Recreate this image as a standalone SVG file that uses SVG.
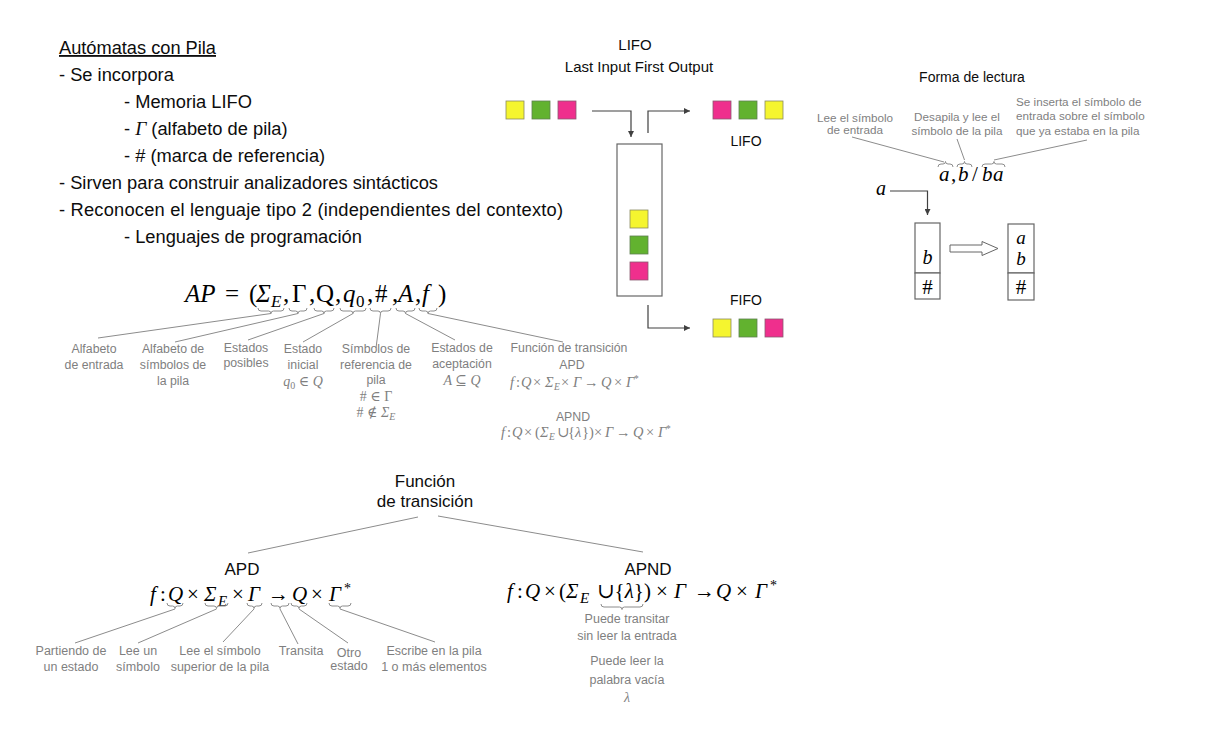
<svg xmlns="http://www.w3.org/2000/svg" width="1208" height="748" viewBox="0 0 1208 748">
<defs>
<marker id="ah" markerWidth="7" markerHeight="6" refX="6" refY="3" orient="auto" markerUnits="userSpaceOnUse"><path d="M0,0 L6,3 L0,6 z" fill="#404040"/></marker>
<style>
.t{font-family:"Liberation Sans",Arial,sans-serif;fill:#0d0d0d}
.g{font-family:"Liberation Sans",Arial,sans-serif;fill:#7f7f7f}
.m{font-family:"Liberation Serif","DejaVu Serif","Times New Roman",serif}
.gm{font-family:"Liberation Serif","DejaVu Serif","Times New Roman",serif;fill:#7f7f7f}
.i{font-style:italic}
.n{font-style:normal}
.ln{stroke:#8c8c8c;stroke-width:1;fill:none}
.ar{stroke:#404040;stroke-width:1.2;fill:none}
.bx{stroke:#666;stroke-width:1.2;fill:#fff}
.y{fill:#f5f52f;stroke:#8a8a60;stroke-width:.8}
.gr{fill:#62b22f;stroke:#5f7f50;stroke-width:.8}
.pk{fill:#ef2f8d;stroke:#8a5a70;stroke-width:.8}
</style>
</defs>
<rect width="1208" height="748" fill="#fff"/>

<g id="intro" class="t" font-size="18.3">
<text x="59" y="54" text-decoration="underline" textLength="157" lengthAdjust="spacingAndGlyphs">Autómatas con Pila</text>
<text x="59" y="81">- Se incorpora</text>
<text x="124" y="108">- Memoria LIFO</text>
<text x="124" y="135">- <tspan class="m i" font-size="19.5">Γ</tspan> (alfabeto de pila)</text>
<text x="124" y="162">- # (marca de referencia)</text>
<text x="59" y="189" textLength="379" lengthAdjust="spacing">- Sirven para construir analizadores sintácticos</text>
<text x="59" y="216" textLength="504" lengthAdjust="spacing">- Reconocen el lenguaje tipo 2 (independientes del contexto)</text>
<text x="124" y="243">- Lenguajes de programación</text>
</g>

<g id="ap-formula">
<text class="m" font-size="25" y="302"><tspan class="i" x="185">AP</tspan><tspan x="225">=</tspan><tspan x="249">(</tspan><tspan class="i" x="256">Σ</tspan><tspan class="i" x="271" y="307" font-size="17">E</tspan><tspan x="283" y="302">,</tspan><tspan x="292">Γ</tspan><tspan x="309">,</tspan><tspan x="316">Q</tspan><tspan x="335">,</tspan><tspan class="i" x="343">q</tspan><tspan x="356" y="307" font-size="17">0</tspan><tspan x="367" y="302">,</tspan><tspan x="375">#</tspan><tspan x="392">,</tspan><tspan class="i" x="398">A</tspan><tspan x="415">,</tspan><tspan class="i" x="422">f</tspan><tspan x="438">)</tspan></text>
<path class="ln" d="M258,308 q0,3 3,3 H268.5 q2.5,0 2.5,2.5 q0,-2.5 2.5,-2.5 H281 q3,0 3,-3"/>
<path class="ln" d="M289,308 q0,3 3,3 H295.5 q2.5,0 2.5,2.5 q0,-2.5 2.5,-2.5 H304 q3,0 3,-3"/>
<path class="ln" d="M314,308 q0,3 3,3 H321.5 q2.5,0 2.5,2.5 q0,-2.5 2.5,-2.5 H331 q3,0 3,-3"/>
<path class="ln" d="M340,308 q0,3 3,3 H350.5 q2.5,0 2.5,2.5 q0,-2.5 2.5,-2.5 H363 q3,0 3,-3"/>
<path class="ln" d="M370,308 q0,3 3,3 H378 q2.5,0 2.5,2.5 q0,-2.5 2.5,-2.5 H388 q3,0 3,-3"/>
<path class="ln" d="M396,308 q0,3 3,3 H403 q2.5,0 2.5,2.5 q0,-2.5 2.5,-2.5 H412 q3,0 3,-3"/>
<path class="ln" d="M419,308 q0,3 3,3 H425.5 q2.5,0 2.5,2.5 q0,-2.5 2.5,-2.5 H434 q3,0 3,-3"/>
</g>

<g id="ap-labels" class="g" font-size="12.3" text-anchor="middle">
<g id="lbl-alfabeto-entrada"><text><tspan x="94" y="353">Alfabeto</tspan><tspan x="94" y="369">de entrada</tspan></text></g>
<g id="lbl-alfabeto-pila"><text><tspan x="173" y="353">Alfabeto de</tspan><tspan x="173" y="369">símbolos de</tspan><tspan x="173" y="385">la pila</tspan></text></g>
<g id="lbl-estados"><text><tspan x="246" y="352">Estados</tspan><tspan x="246" y="367">posibles</tspan></text></g>
<g id="lbl-inicial"><text><tspan x="303" y="353">Estado</tspan><tspan x="303" y="369">inicial</tspan></text>
<text class="gm i" font-size="14" x="303" y="386">q<tspan font-size="10" dy="3" class="n">0</tspan><tspan dy="-3" class="n"> ∈ </tspan>Q</text></g>
<g id="lbl-referencia"><text><tspan x="376" y="353">Símbolos de</tspan><tspan x="376" y="369">referencia de</tspan><tspan x="376" y="384">pila</tspan></text>
<text class="gm" font-size="14" x="376" y="401"># ∈ Γ</text>
<text class="gm" font-size="14" x="376" y="417"># ∉ <tspan class="i">Σ</tspan><tspan class="i" font-size="10" dy="3">E</tspan></text></g>
<g id="lbl-aceptacion"><text><tspan x="462" y="352">Estados de</tspan><tspan x="462" y="368">aceptación</tspan></text>
<text class="gm i" font-size="14" x="462" y="385">A <tspan class="n">⊆</tspan> Q</text></g>
<g id="lbl-funcion"><text><tspan x="569" y="352">Función de transición</tspan><tspan x="572" y="369">APD</tspan><tspan x="573" y="421">APND</tspan></text></g>
</g>

<g id="ap-small-formulas" class="gm" font-size="14.5">
<text y="387"><tspan class="i" x="510">f</tspan><tspan x="516">:</tspan><tspan class="i" x="521">Q</tspan><tspan x="533">×</tspan><tspan class="i" x="545">Σ</tspan><tspan class="i" x="554" y="390" font-size="9.5">E</tspan><tspan x="561" y="387">×</tspan><tspan class="i" x="573">Γ</tspan><tspan x="584">→</tspan><tspan class="i" x="601">Q</tspan><tspan x="614">×</tspan><tspan class="i" x="626">Γ</tspan><tspan x="634" y="382" font-size="9.5">*</tspan></text>
<text y="437"><tspan class="i" x="501">f</tspan><tspan x="507">:</tspan><tspan class="i" x="512">Q</tspan><tspan x="524">×</tspan><tspan x="535">(</tspan><tspan class="i" x="540">Σ</tspan><tspan class="i" x="549" y="440" font-size="9.5">E</tspan><tspan x="557" y="437">∪</tspan><tspan x="568">{</tspan><tspan class="i" x="575">λ</tspan><tspan x="582">})</tspan><tspan x="594">×</tspan><tspan class="i" x="605">Γ</tspan><tspan x="616">→</tspan><tspan class="i" x="633">Q</tspan><tspan x="646">×</tspan><tspan class="i" x="658">Γ</tspan><tspan x="666" y="432" font-size="9.5">*</tspan></text>
</g>

<g id="lifo-title" class="t" font-size="15" text-anchor="middle">
<text x="635" y="50">LIFO</text>
<text x="639" y="72">Last Input First Output</text>
</g>

<g id="input-squares">
<rect class="y" x="506" y="101" width="18" height="18"/>
<rect class="gr" x="532" y="101" width="18" height="18"/>
<rect class="pk" x="558" y="101" width="18" height="18"/>
</g>

<g id="stack">
<rect x="617" y="144" width="45" height="152" fill="#fff" stroke="#666" stroke-width="1.2"/>
<rect class="y" x="630" y="210" width="18" height="18"/>
<rect class="gr" x="630" y="236" width="18" height="18"/>
<rect class="pk" x="630" y="262" width="18" height="18"/>
</g>

<g id="lifo-out">
<rect class="pk" x="713" y="101" width="18" height="18"/>
<rect class="gr" x="739" y="101" width="18" height="18"/>
<rect class="y" x="765" y="101" width="18" height="18"/>
<text class="t" font-size="14" x="746" y="146" text-anchor="middle">LIFO</text>
</g>

<g id="fifo-out">
<text class="t" font-size="14" x="746" y="305" text-anchor="middle">FIFO</text>
<rect class="y" x="713" y="319" width="18" height="18"/>
<rect class="gr" x="739" y="319" width="18" height="18"/>
<rect class="pk" x="765" y="319" width="18" height="18"/>
</g>

<g id="connectors">
<path class="ar" d="M592,111 H631 V137" marker-end="url(#ah)"/>
<path class="ar" d="M648,133 V111 H690" marker-end="url(#ah)"/>
<path class="ar" d="M648,305 V328 H690" marker-end="url(#ah)"/>
<path class="ar" d="M890,191 H927.5 V215" marker-end="url(#ah)"/>
<line class="ln" x1="271" y1="313.5" x2="98" y2="338"/>
<line class="ln" x1="298" y1="313.5" x2="175" y2="342"/>
<line class="ln" x1="324" y1="313.5" x2="248" y2="340"/>
<line class="ln" x1="353" y1="313.5" x2="303" y2="342"/>
<line class="ln" x1="380.5" y1="313.5" x2="376" y2="348"/>
<line class="ln" x1="405.5" y1="313.5" x2="455" y2="340"/>
<line class="ln" x1="428" y1="313.5" x2="563" y2="342"/>
<line class="ln" x1="852" y1="137" x2="944" y2="162"/>
<line class="ln" x1="957" y1="139" x2="964.5" y2="160"/>
<line class="ln" x1="1087" y1="140" x2="994" y2="160"/>
<line class="ln" x1="418" y1="517" x2="248" y2="553"/>
<line class="ln" x1="438" y1="516" x2="643" y2="552"/>
<line class="ln" x1="175" y1="609" x2="75" y2="643"/>
<line class="ln" x1="216.5" y1="609" x2="138" y2="643"/>
<line class="ln" x1="254" y1="609" x2="223" y2="642"/>
<line class="ln" x1="280" y1="609" x2="298" y2="644"/>
<line class="ln" x1="299" y1="609" x2="348" y2="643"/>
<line class="ln" x1="340" y1="609" x2="435" y2="642"/>
</g>

<g id="lectura">
<text class="t" font-size="14" x="972" y="82" text-anchor="middle">Forma de lectura</text>
<g class="g" font-size="11.7">
<text text-anchor="middle"><tspan x="855" y="122">Lee el símbolo</tspan><tspan x="855" y="134">de entrada</tspan></text>
<text text-anchor="middle"><tspan x="957" y="121">Desapila y lee el</tspan><tspan x="957" y="135">símbolo de la pila</tspan></text>
<text><tspan x="1016" y="106">Se inserta el símbolo de</tspan><tspan x="1016" y="120">entrada sobre el símbolo</tspan><tspan x="1016" y="135">que ya estaba en la pila</tspan></text>
</g>
<text class="m i" font-size="21" y="181"><tspan x="939">a</tspan><tspan x="951" class="n">,</tspan><tspan x="958">b</tspan><tspan x="972" class="n">/</tspan><tspan x="982">b</tspan><tspan x="993">a</tspan></text>
<path class="ln" d="M938,167 q0,-3 3,-3 H943 q2.5,0 2.5,-2.5 q0,2.5 2.5,2.5 H950 q3,0 3,3"/>
<path class="ln" d="M957,167 q0,-3 3,-3 H962 q2.5,0 2.5,-2.5 q0,2.5 2.5,2.5 H969 q3,0 3,3"/>
<path class="ln" d="M982,167 q0,-3 3,-3 H991.5 q2.5,0 2.5,-2.5 q0,2.5 2.5,2.5 H1002 q3,0 3,3"/>
<text class="m i" font-size="20" x="876" y="195">a</text>
</g>

<g id="stack-before">
<rect class="bx" x="915" y="223" width="25" height="50"/>
<rect class="bx" x="915" y="273" width="25" height="26"/>
<text class="m i" font-size="20" x="927.5" y="264" text-anchor="middle">b</text>
<text class="m" font-size="21" x="927.5" y="294" text-anchor="middle">#</text>
</g>

<g id="hollow-arrow">
<polygon points="950,245 982,245 982,241.5 998,248.5 982,255.5 982,252 950,252" fill="#fff" stroke="#666" stroke-width="1"/>
</g>

<g id="stack-after">
<rect class="bx" x="1008" y="224" width="26" height="49"/>
<rect class="bx" x="1008" y="273" width="26" height="27"/>
<text class="m i" font-size="19" x="1021" y="244" text-anchor="middle">a</text>
<text class="m i" font-size="19" x="1021" y="265" text-anchor="middle">b</text>
<text class="m" font-size="21" x="1021" y="294" text-anchor="middle">#</text>
</g>

<g id="funcion-root" class="t" font-size="17" text-anchor="middle">
<text x="425" y="487">Función</text>
<text x="425" y="507">de transición</text>
</g>

<g id="apd">
<text class="t" font-size="17" x="242" y="575" text-anchor="middle">APD</text>
<text class="m" font-size="21" y="601"><tspan class="i" x="150">f</tspan><tspan x="160">:</tspan><tspan class="i" x="168">Q</tspan><tspan x="187">×</tspan><tspan class="i" x="204">Σ</tspan><tspan class="i" x="218" y="606" font-size="15">E</tspan><tspan x="232" y="601">×</tspan><tspan class="i" x="248">Γ</tspan><tspan x="268">→</tspan><tspan class="i" x="292">Q</tspan><tspan x="311">×</tspan><tspan class="i" x="329">Γ</tspan><tspan x="344" y="593" font-size="14">*</tspan></text>
<path class="ln" d="M167,603 q0,3 3,3 H172.5 q2.5,0 2.5,2.5 q0,-2.5 2.5,-2.5 H180 q3,0 3,-3"/>
<path class="ln" d="M205,603 q0,3 3,3 H214 q2.5,0 2.5,2.5 q0,-2.5 2.5,-2.5 H225 q3,0 3,-3"/>
<path class="ln" d="M247,603 q0,3 3,3 H251.5 q2.5,0 2.5,2.5 q0,-2.5 2.5,-2.5 H259 q3,0 3,-3"/>
<path class="ln" d="M271,603 q0,3 3,3 H277.5 q2.5,0 2.5,2.5 q0,-2.5 2.5,-2.5 H286 q3,0 3,-3"/>
<path class="ln" d="M291,603 q0,3 3,3 H296.5 q2.5,0 2.5,2.5 q0,-2.5 2.5,-2.5 H304 q3,0 3,-3"/>
<path class="ln" d="M329,603 q0,3 3,3 H337.5 q2.5,0 2.5,2.5 q0,-2.5 2.5,-2.5 H348 q3,0 3,-3"/>
</g>

<g id="apd-labels" class="g" font-size="12.5" text-anchor="middle">
<text><tspan x="71" y="655">Partiendo de</tspan><tspan x="71" y="671">un estado</tspan></text>
<text><tspan x="138" y="655">Lee un</tspan><tspan x="138" y="671">símbolo</tspan></text>
<text><tspan x="220" y="655">Lee el símbolo</tspan><tspan x="220" y="671">superior de la pila</tspan></text>
<text x="301" y="655">Transita</text>
<text><tspan x="349" y="657">Otro</tspan><tspan x="349" y="670">estado</tspan></text>
<text><tspan x="434" y="655">Escribe en la pila</tspan><tspan x="434" y="671">1 o más elementos</tspan></text>
</g>

<g id="apnd">
<text class="t" font-size="17" x="648" y="575" text-anchor="middle">APND</text>
<text class="m" font-size="21" y="598"><tspan class="i" x="507">f</tspan><tspan x="517">:</tspan><tspan class="i" x="525">Q</tspan><tspan x="544">×</tspan><tspan x="559">(</tspan><tspan class="i" x="566">Σ</tspan><tspan class="i" x="580" y="603" font-size="15">E</tspan><tspan x="597" y="598">∪{<tspan class="i">λ</tspan>})</tspan><tspan x="656">×</tspan><tspan class="i" x="674">Γ</tspan><tspan x="694">→</tspan><tspan class="i" x="716">Q</tspan><tspan x="736">×</tspan><tspan class="i" x="755">Γ</tspan><tspan x="770" y="590" font-size="14">*</tspan></text>
<path class="ln" d="M601,604 q0,3 3,3 H619.5 q2.5,0 2.5,2.5 q0,-2.5 2.5,-2.5 H640 q3,0 3,-3"/>
<g class="g" font-size="12.5" text-anchor="middle">
<text><tspan x="627" y="623">Puede transitar</tspan><tspan x="627" y="640">sin leer la entrada</tspan></text>
<text><tspan x="627" y="665">Puede leer la</tspan><tspan x="627" y="684">palabra vacía</tspan></text>
<text class="gm i" font-size="14" x="627" y="702">λ</text>
</g>
</g>
</svg>
